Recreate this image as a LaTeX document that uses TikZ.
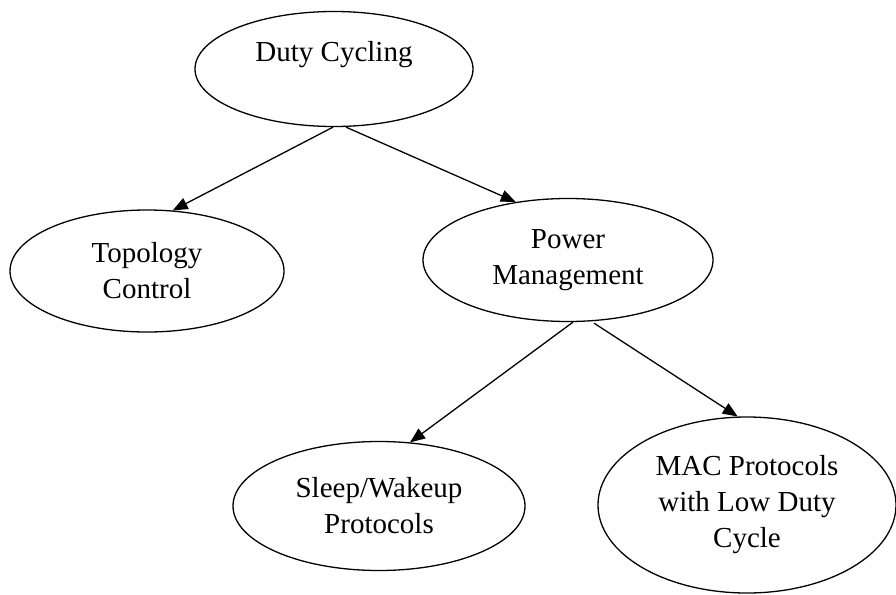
\documentclass[tikz,border=0pt]{standalone}
\usepackage{fontspec}
\setmainfont{Liberation Serif}
\usetikzlibrary{shapes.geometric,arrows.meta}

\tikzset{
  bubble/.style={draw=black, line width=1.3pt, ellipse, inner sep=0pt,
                 align=center, font=\fontsize{29}{36}\selectfont},
  link/.style={line width=1.3pt, -{Triangle[length=15pt,width=12pt]}},
  caption/.style={inner sep=0pt, font=\fontsize{29}{36}\selectfont}
}

\begin{document}
\begin{tikzpicture}[x=1pt, y=-1pt]
  \useasboundingbox[fill=white] (0,0) rectangle (896,594);

  % tree nodes
  \node[bubble, minimum width=278pt, minimum height=115pt] (duty) at (334,69) {};
  \node[caption] (dutytext) at (334,55) {Duty Cycling};
  \node[bubble, minimum width=274pt, minimum height=122pt] (topo) at (147,271) {Topology\\Control};
  \node[bubble, minimum width=290pt, minimum height=123pt] (pm) at (568,260) {Power\\Management};
  \node[bubble, minimum width=292pt, minimum height=129pt] (sleep) at (379,506) {Sleep/Wakeup\\Protocols};
  \node[bubble, minimum width=298pt, minimum height=176pt] (mac) at (747,505) {MAC Protocols\\with Low Duty\\Cycle};

  % connectors
  \draw[link] ([xshift=-1pt]duty.south) -- (topo.67);
  \draw[link] ([xshift=12pt]duty.south) -- (pm.132);
  \draw[link] ([xshift=5pt]pm.south) -- (sleep.64);
  \draw[link] ([xshift=26pt,yshift=-1pt]pm.south) -- (mac.96);
\end{tikzpicture}
\end{document}
